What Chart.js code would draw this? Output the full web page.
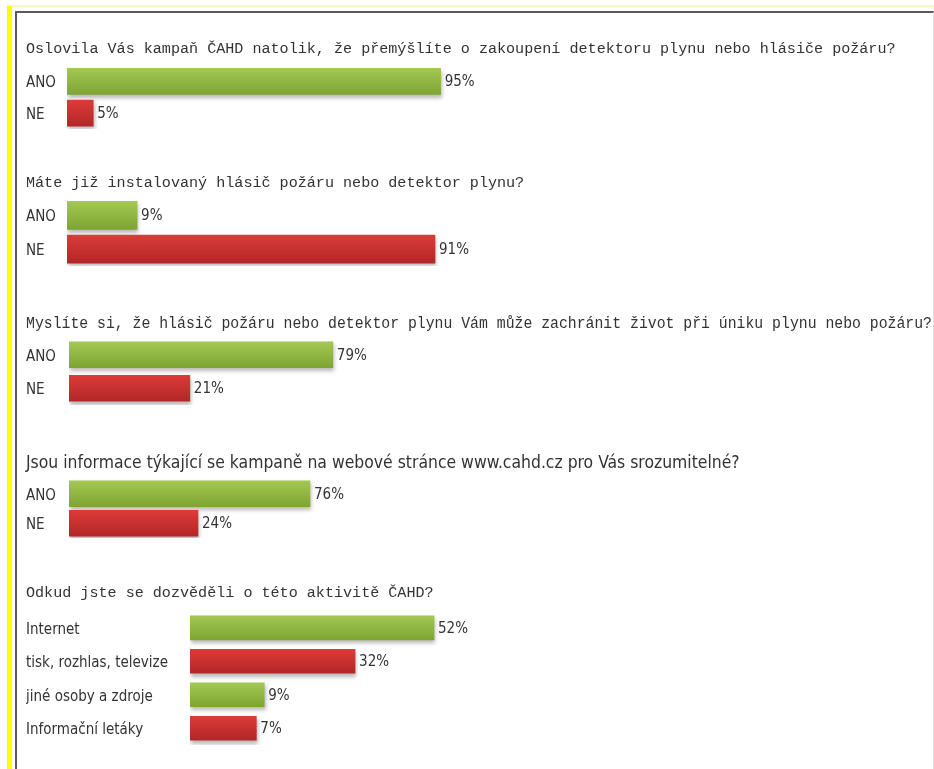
<!DOCTYPE html>
<html>
<head>
<meta charset="utf-8">
<script src="https://cdn.jsdelivr.net/npm/chart.js@4/dist/chart.umd.min.js"></script>
<style>
  body { margin: 0; background: #fff; width: 934px; height: 769px; overflow: hidden; position: relative; }
  .strip-top { position: absolute; left: 7px; top: 5px; width: 927px; height: 2px; background: #fbf6c8; }
  .strip-left { position: absolute; left: 7px; top: 6px; width: 5px; height: 763px; background: #ffff00; }
  .frame { position: absolute; left: 15px; top: 11px; width: 916px; height: 770px;
           border-left: 2px solid #5a5a5a; border-top: 2px solid #5a5a5a; border-right: 1px solid #e4e4e4; }
  .block { position: absolute; left: 0; }
</style>
</head>
<body>
<div class="strip-top"></div>
<div class="strip-left"></div>
<div class="frame"></div>

<div class="block" id="b1"><canvas id="c1"></canvas></div>
<div class="block" id="b2"><canvas id="c2"></canvas></div>
<div class="block" id="b3"><canvas id="c3"></canvas></div>
<div class="block" id="b4"><canvas id="c4"></canvas></div>
<div class="block" id="b5"><canvas id="c5"></canvas></div>

<script>
// Survey answers (percent)
const q1Title = "Oslovila Vás kampaň ČAHD natolik, že přemýšlíte o zakoupení detektoru plynu nebo hlásiče požáru?";
const q1Labels = ["ANO", "NE"];
const q1Values = [95, 5];

const q2Title = "Máte již instalovaný hlásič požáru nebo detektor plynu?";
const q2Labels = ["ANO", "NE"];
const q2Values = [9, 91];

const q3Title = "Myslíte si, že hlásič požáru nebo detektor plynu Vám může zachránit život při úniku plynu nebo požáru?";
const q3Labels = ["ANO", "NE"];
const q3Values = [79, 21];

const q4Title = "Jsou informace týkající se kampaně na webové stránce www.cahd.cz pro Vás srozumitelné?";
const q4Labels = ["ANO", "NE"];
const q4Values = [76, 24];

const q5Title = "Odkud jste se dozvěděli o této aktivitě ČAHD?";
const q5Labels = ["Internet", "tisk, rozhlas, televize", "jiné osoby a zdroje", "Informační letáky"];
const q5Values = [52, 32, 9, 7];

const MONO = "'Liberation Mono', 'DejaVu Sans Mono', monospace";
const NARROW = "'Liberation Sans Narrow', 'DejaVu Sans Condensed', 'Liberation Sans', sans-serif";
const TEXT = "#333";

// Layout of each block: title line, first row top, row pitch, where bars begin, axis range
const blocks = [
  { id: "c1", wrap: "b1", title: q1Title, labels: q1Labels, values: q1Values, titleFont: MONO, titleSize: 15.1,
    titleY: 49, rowTop: 65.5, pitch: 33, barStart: 67, bar: 26, xMin: -1.8, xMax: 214 },
  { id: "c2", wrap: "b2", title: q2Title, labels: q2Labels, values: q2Values, titleFont: MONO, titleSize: 15.1,
    titleY: 183, rowTop: 198.5, pitch: 35, barStart: 67, bar: 28, xMin: -10.3, xMax: 219 },
  { id: "c3", wrap: "b3", title: q3Title, labels: q3Labels, values: q3Values, titleFont: MONO, titleSize: 15.8,
    titleY: 323, rowTop: 337.5, pitch: 35, barStart: 69, bar: 26, xMin: -28, xMax: 309 },
  { id: "c4", wrap: "b4", title: q4Title, labels: q4Labels, values: q4Values, titleFont: NARROW, titleSize: 17.4,
    titleY: 463, rowTop: 478.5, pitch: 31, barStart: 69, bar: 26, xMin: -35.9, xMax: 350 },
  { id: "c5", wrap: "b5", title: q5Title, labels: q5Labels, values: q5Values, titleFont: MONO, titleSize: 15.1,
    titleY: 593, rowTop: 611, pitch: 34.3, barStart: 190, bar: 24, xMin: -9.8, xMax: 170 }
];

const GREEN = ["#a3c853", "#7ea433"];
const RED = ["#dc3b38", "#b12727"];

function barFill(cfg) {
  return ctx => {
    const pair = ctx.dataIndex % 2 === 0 ? GREEN : RED;
    const chart = ctx.chart;
    if (!chart.chartArea || ctx.type !== "data") return pair[1];
    const y = chart.scales.y.getPixelForValue(ctx.dataIndex);
    const g = chart.ctx.createLinearGradient(0, y - cfg.bar / 2, 0, y + cfg.bar / 2);
    g.addColorStop(0, pair[0]);
    g.addColorStop(1, pair[1]);
    return g;
  };
}

// soft drop shadow under the bars
const barShadow = {
  id: "barShadow",
  beforeDatasetsDraw(chart) {
    const c = chart.ctx;
    c.save();
    c.shadowColor = "rgba(0,0,0,0.28)";
    c.shadowBlur = 4;
    c.shadowOffsetX = 1;
    c.shadowOffsetY = 3;
  },
  afterDatasetsDraw(chart) {
    chart.ctx.restore();
  }
};

// percentage text at the end of each bar
const valueLabels = {
  id: "valueLabels",
  afterDraw(chart) {
    const c = chart.ctx;
    const meta = chart.getDatasetMeta(0);
    const vals = chart.data.datasets[0].data;
    c.save();
    c.font = "15px " + NARROW;
    c.fillStyle = TEXT;
    c.textBaseline = "middle";
    c.textAlign = "left";
    meta.data.forEach((bar, i) => {
      c.fillText(vals[i] + "%", bar.x + 4, bar.y + 1);
    });
    c.restore();
  }
};

blocks.forEach(cfg => {
  const lineH = cfg.titleSize * 1.2;
  const top = cfg.titleY - lineH / 2;
  const height = Math.round(cfg.rowTop - top + cfg.labels.length * cfg.pitch + 6);
  const wrap = document.getElementById(cfg.wrap);
  wrap.style.top = top + "px";
  const canvas = document.getElementById(cfg.id);
  canvas.width = 934;
  canvas.height = height;
  canvas.style.width = "934px";
  canvas.style.height = height + "px";

  new Chart(canvas, {
    type: "bar",
    data: {
      labels: cfg.labels,
      datasets: [{
        data: cfg.values,
        base: cfg.xMin,
        backgroundColor: barFill(cfg),
        barThickness: cfg.bar,
        borderWidth: 0
      }]
    },
    options: {
      indexAxis: "y",
      responsive: false,
      animation: false,
      devicePixelRatio: 1,
      layout: { padding: { left: 26, right: 2, top: 0, bottom: height - (cfg.rowTop - top) - cfg.labels.length * cfg.pitch } },
      plugins: {
        legend: { display: false },
        tooltip: { enabled: false },
        title: {
          display: true,
          text: cfg.title,
          align: "start",
          color: TEXT,
          font: { family: cfg.titleFont, size: cfg.titleSize, weight: "normal", lineHeight: 1.2 },
          padding: { top: 0, bottom: cfg.rowTop - top - lineH }
        }
      },
      scales: {
        x: { display: false, min: cfg.xMin, max: cfg.xMax + (32 / (900 - cfg.barStart)) * (cfg.xMax - cfg.xMin) },
        y: {
          grid: { display: false },
          border: { display: false },
          ticks: {
            crossAlign: "far",
            padding: 0,
            labelOffset: 2,
            color: TEXT,
            font: { family: NARROW, size: 15 }
          },
          afterFit(scale) { scale.width = cfg.barStart - 26; }
        }
      }
    },
    plugins: [barShadow, valueLabels]
  });
});
</script>
</body>
</html>
